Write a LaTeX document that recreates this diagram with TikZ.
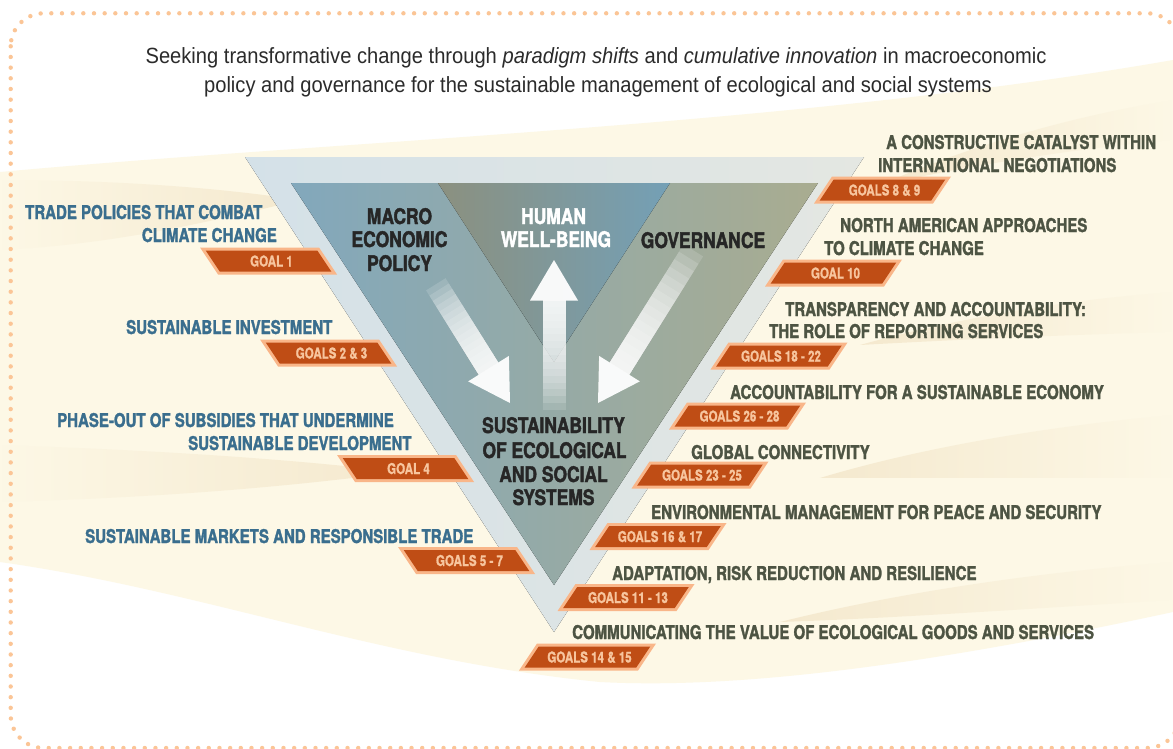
\documentclass[tikz,border=0pt]{standalone}
\usepackage{fontspec}
\setmainfont{Liberation Sans}[FakeStretch=0.915]
\newfontfamily\lblfont{TeX Gyre Heros}[FakeStretch=0.79, FakeBold=1.6]
\newfontfamily\trifont{TeX Gyre Heros}[FakeStretch=0.81, FakeBold=1.8]
\newfontfamily\goalfont{TeX Gyre Heros}[FakeStretch=0.77, FakeBold=1.0]
\usetikzlibrary{calc,fadings}
\definecolor{dotc}{HTML}{FBC596}
\definecolor{goalfill}{HTML}{BF4D15}
\definecolor{goalrim}{HTML}{F9B689}
\definecolor{goaltext}{HTML}{F7C59E}
\definecolor{lblue}{HTML}{3A6E8E}
\definecolor{rolive}{HTML}{4D5443}
\definecolor{tridark}{HTML}{262626}
\definecolor{cream}{HTML}{FDF8E6}
\definecolor{tanband}{HTML}{EBD7B2}
\definecolor{outerL}{HTML}{D4E1E8}
\definecolor{outerR}{HTML}{E4E7E2}
\definecolor{leftA}{HTML}{82A8BC}
\definecolor{innerM}{HTML}{98B1AE}
\definecolor{rightB}{HTML}{A9AC90}
\definecolor{midA}{HTML}{8B907F}
\definecolor{midB}{HTML}{74A0B6}
\definecolor{titlec}{HTML}{2B2B2B}
\tikzset{
  lbl/.style={font=\lblfont\bfseries\fontsize{19bp}{19bp}\selectfont, anchor=base west, inner sep=0pt},
  lblL/.style={lbl, text=lblue},
  lblR/.style={lbl, text=rolive},
  tri/.style={font=\trifont\bfseries\fontsize{21.5bp}{21.5bp}\selectfont, anchor=base, inner sep=0pt, text=tridark},
  triW/.style={tri, text=white},
  goaltxt/.style={font=\goalfont\bfseries\fontsize{15bp}{15bp}\selectfont, anchor=base, inner sep=0pt, text=goaltext},
  ttl/.style={font=\fontsize{22bp}{22bp}\selectfont, anchor=base, inner sep=0pt, text=titlec},
  band/.style={fill=tanband, opacity=0.45},
}
\newcommand\goalL[4]{%
  \fill[goalrim] ({#2-68.5},{#3-13.5}) -- ({#2+50.5},{#3-13.5}) -- ({#2+68.5},{#3+13.5}) -- ({#2-50.5},{#3+13.5}) -- cycle;
  \fill[goalfill] ({#2-62.8},{#3-10.5}) -- ({#2+48.8},{#3-10.5}) -- ({#2+62.8},{#3+10.5}) -- ({#2-48.8},{#3+10.5}) -- cycle;
  \node[goaltxt] (#1) at ({#2+3},{#3+5.5}) {#4};
}
\newcommand\goalR[4]{%
  \fill[goalrim] ({#2-50.5},{#3-13.5}) -- ({#2+68.5},{#3-13.5}) -- ({#2+50.5},{#3+13.5}) -- ({#2-68.5},{#3+13.5}) -- cycle;
  \fill[goalfill] ({#2-48.8},{#3-10.5}) -- ({#2+62.8},{#3-10.5}) -- ({#2+48.8},{#3+10.5}) -- ({#2-62.8},{#3+10.5}) -- cycle;
  \node[goaltxt] (#1) at ({#2+2},{#3+5.5}) {#4};
}
\newcommand\beam[4]{% tip x, tip y, rotation, shaft length
  \begin{scope}[shift={(#1,#2)}, rotate=#3]
    \fill[white, opacity=0.95] (0,0) -- (24,40.5) -- (-24,40.5) -- cycle;
    \foreach \i in {1,...,16} {
      \fill[white, opacity=0.14] (-11.5,40) rectangle (11.5,{40+#4*\i/16});
    }
  \end{scope}
}
\begin{document}
\begin{tikzpicture}[x=1bp,y=-1bp]
\useasboundingbox (0,0) rectangle (1173,749);
\fill[white] (0,0) rectangle (1173,749);
% background swirl
\fill[cream] (0,172) .. controls (350,140) and (800,125) .. (1173,60) -- (1173,612)
  .. controls (950,660) and (750,690) .. (600,682) .. controls (380,660) and (200,590) .. (0,562) -- cycle;
\fill[band, path fading=west] (0,180) .. controls (120,180) and (220,188) .. (300,200) .. controls (210,222) and (110,245) .. (0,250) -- cycle;
\fill[band, path fading=west] (0,445) .. controls (150,450) and (280,458) .. (400,472) .. controls (280,488) and (150,498) .. (0,502) -- cycle;
\fill[band, path fading=east] (880,185) .. controls (960,150) and (1060,118) .. (1173,100) -- (1173,140) .. controls (1060,150) and (960,168) .. (880,185) -- cycle;
\fill[band, path fading=east] (860,345) .. controls (950,320) and (1060,300) .. (1173,292) -- (1173,332) .. controls (1060,335) and (950,340) .. (860,345) -- cycle;
\fill[band, path fading=east] (820,478) .. controls (930,445) and (1060,425) .. (1173,415) -- (1173,478) .. controls (1060,478) and (930,478) .. (820,478) -- cycle;
\fill[band, path fading=east] (780,622) .. controls (900,592) and (1040,572) .. (1173,562) -- (1173,600) .. controls (1040,608) and (900,618) .. (780,622) -- cycle;
% dotted frame
\draw[dotc, line width=4.4bp, line cap=round, dash pattern=on 0bp off 10.67bp, rounded corners=33bp] (10.7,13.3) rectangle (1180,748);
% title
\node[ttl] (title1) at (596,64) {Seeking transformative change through \textit{paradigm shifts} and \textit{cumulative innovation} in macroeconomic};
\node[ttl] (title2) at (598,93) {policy and governance for the sustainable management of ecological and social systems};
% triangle
\fill[left color=outerL, right color=outerR] (245,157) -- (864,157) -- (554,632) -- cycle;
\fill[left color=leftA, middle color=innerM, right color=rightB] (291,183) -- (818,183) -- (554,585) -- cycle;
\fill[left color=midA, right color=midB] (438,183) -- (670,183) -- (554,362) -- cycle;
% arrows
\beam{554}{260}{0}{110}
\beam{510}{403}{-148}{100}
\beam{598}{403}{148}{140}
% triangle labels
\node[tri] (macro1) at (399.5,224) {MACRO};
\node[tri] (macro2) at (399.5,247) {ECONOMIC};
\node[tri] (macro3) at (399.5,271) {POLICY};
\node[triW] (human1) at (553.5,224) {HUMAN};
\node[triW] (human2) at (556,247) {WELL-BEING};
\node[tri] (gov) at (703,248) {GOVERNANCE};
\node[tri] (sus1) at (553.5,433) {SUSTAINABILITY};
\node[tri] (sus2) at (554.5,458) {OF ECOLOGICAL};
\node[tri] (sus3) at (553.5,482) {AND SOCIAL};
\node[tri] (sus4) at (553.5,505) {SYSTEMS};
% left labels
\node[lblL] (l1a) at (25,219) {TRADE POLICIES THAT COMBAT};
\node[lblL] (l1b) at (141.7,242) {CLIMATE CHANGE};
\node[lblL] (l2) at (126,334) {SUSTAINABLE INVESTMENT};
\node[lblL] (l3a) at (57,427) {PHASE-OUT OF SUBSIDIES THAT UNDERMINE};
\node[lblL] (l3b) at (188,450) {SUSTAINABLE DEVELOPMENT};
\node[lblL] (l4) at (85,543) {SUSTAINABLE MARKETS AND RESPONSIBLE TRADE};
% right labels
\node[lblR] (r1a) at (886,149) {A CONSTRUCTIVE CATALYST WITHIN};
\node[lblR] (r1b) at (878,172) {INTERNATIONAL NEGOTIATIONS};
\node[lblR] (r2a) at (840,232) {NORTH AMERICAN APPROACHES};
\node[lblR] (r2b) at (824,255) {TO CLIMATE CHANGE};
\node[lblR] (r3a) at (785,316) {TRANSPARENCY AND ACCOUNTABILITY:};
\node[lblR] (r3b) at (769,338) {THE ROLE OF REPORTING SERVICES};
\node[lblR] (r4) at (730,399) {ACCOUNTABILITY FOR A SUSTAINABLE ECONOMY};
\node[lblR] (r5) at (691,459) {GLOBAL CONNECTIVITY};
\node[lblR] (r6) at (651,519) {ENVIRONMENTAL MANAGEMENT FOR PEACE AND SECURITY};
\node[lblR] (r7) at (612,580) {ADAPTATION, RISK REDUCTION AND RESILIENCE};
\node[lblR] (r8) at (572,639) {COMMUNICATING THE VALUE OF ECOLOGICAL GOODS AND SERVICES};
% goal tags
\goalL{g1}{268.5}{261}{GOAL 1}
\goalL{g23}{328.5}{353}{GOALS 2 \& 3}
\goalL{g4}{405.5}{468.5}{GOAL 4}
\goalL{g57}{466.5}{560.5}{GOALS 5 - 7}
\goalR{g89}{882.5}{190}{GOALS 8 \& 9}
\goalR{g10}{833.5}{273}{GOAL 10}
\goalR{g1822}{779}{356}{GOALS 18 - 22}
\goalR{g2628}{737.5}{416}{GOALS 26 - 28}
\goalR{g2325}{700}{475}{GOALS 23 - 25}
\goalR{g1617}{658}{536.5}{GOALS 16 \& 17}
\goalR{g1113}{626}{597.5}{GOALS 11 - 13}
\goalR{g1415}{587.5}{657}{GOALS 14 \& 15}
\end{tikzpicture}
\end{document}
